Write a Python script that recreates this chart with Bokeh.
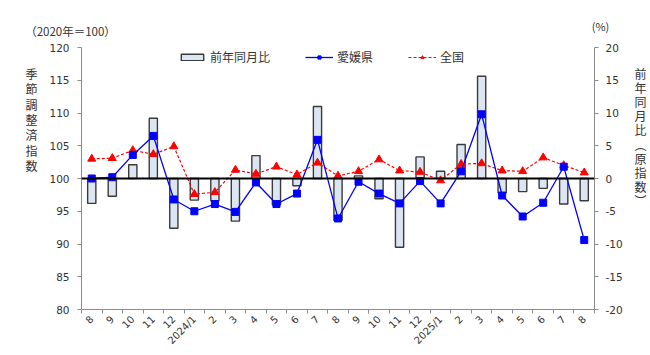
import math
from bokeh.plotting import figure
from bokeh.layouts import column, row
from bokeh.models import (Range1d, LinearAxis, FixedTicker, Span, Label,
                          Legend, LegendItem, ColumnDataSource)
from bokeh.embed import file_html
from bokeh.resources import INLINE

# ---- data ----
months = ["8", "9", "10", "11", "12", "2024/1", "2", "3", "4", "5", "6", "7",
          "8", "9", "10", "11", "12", "2025/1", "2", "3", "4", "5", "6", "7", "8"]
yoy = [-3.8, -2.7, 2.1, 9.2, -7.6, -3.3, -3.4, -6.5, 3.5, -4.0, -1.1, 11.0,
       -6.4, 0.4, -3.1, -10.5, 3.3, 1.1, 5.2, 15.6, -2.2, -2.0, -1.5, -3.9, -3.4]
ehime = [100.0, 100.2, 103.6, 106.5, 96.8, 95.0, 96.1, 94.9, 99.4, 96.1, 97.7, 105.9,
         93.9, 99.5, 97.7, 96.2, 99.6, 96.2, 101.1, 109.8, 97.4, 94.2, 96.3, 101.8, 90.6]
national = [103.0, 103.1, 104.3, 103.7, 104.9, 97.6, 97.9, 101.3, 100.7, 101.8, 100.6, 102.4,
            100.4, 101.1, 102.9, 101.2, 101.0, 99.7, 102.2, 102.3, 101.2, 101.1, 103.2, 102.0, 100.9]
left_ticks = [80, 85, 90, 95, 100, 105, 110, 115, 120]
right_ticks = [-20, -15, -10, -5, 0, 5, 10, 15, 20]
left_title = "季節調整済指数"
right_title = "前年同月比︵原指数︶"

xs = list(range(len(months)))
src = ColumnDataSource(dict(x=xs, yoy=yoy, ehime=ehime, national=national))

JP = "Noto Sans CJK JP"
NUM = "DejaVu Sans"
TXT = "#333333"
AX = "#8c8c8c"

# ---------------- main chart ----------------
fig = figure(width=584, height=316, x_range=Range1d(-0.5, len(months) - 0.5),
             y_range=Range1d(80, 120), output_backend="svg", toolbar_location=None,
             min_border_left=34, min_border_right=36, min_border_top=8, min_border_bottom=46)
fig.extra_y_ranges = {"pct": Range1d(-20, 20)}
fig.xgrid.visible = False
fig.ygrid.visible = False
fig.outline_line_color = None

ya = fig.yaxis[0]
ya.ticker = FixedTicker(ticks=left_ticks)
ya.minor_tick_line_color = None
ya.major_tick_out = 4
ya.major_tick_in = 0
ya.axis_line_color = AX
ya.major_tick_line_color = AX
ya.major_label_text_font = NUM
ya.major_label_text_font_size = "10.5px"
ya.major_label_text_color = TXT
ya.major_label_standoff = 8

ra = LinearAxis(y_range_name="pct", ticker=FixedTicker(ticks=right_ticks))
ra.major_label_overrides = {t: str(t) for t in right_ticks}
ra.minor_tick_line_color = None
ra.major_tick_out = 4
ra.major_tick_in = 0
ra.axis_line_color = AX
ra.major_tick_line_color = AX
ra.major_label_text_font = NUM
ra.major_label_text_font_size = "10.5px"
ra.major_label_text_color = TXT
ra.major_label_standoff = 7
fig.add_layout(ra, "right")

xa = fig.xaxis[0]
xa.ticker = FixedTicker(ticks=xs, minor_ticks=[x - 0.5 for x in xs] + [xs[-1] + 0.5])
xa.major_label_overrides = {x: m for x, m in zip(xs, months)}
xa.major_tick_out = 0
xa.major_tick_in = 0
xa.minor_tick_out = 4
xa.minor_tick_in = 0
xa.minor_tick_line_color = AX
xa.axis_line_color = AX
xa.major_label_orientation = math.pi / 4
xa.major_label_text_font = NUM
xa.major_label_text_font_size = "10px"
xa.major_label_text_color = TXT
xa.major_label_standoff = 4

bars = fig.vbar(x="x", top="yoy", bottom=0, width=0.4, source=src, y_range_name="pct",
                fill_color="#DCE6F2", line_color="#3a3a3a", line_width=1.4)

fig.add_layout(Span(location=100, dimension="width", line_color="black", line_width=2))

nl = fig.line(x="x", y="national", source=src, line_color="#FF0000", line_width=1.2,
              line_dash="3 2")
ns = fig.scatter(x="x", y="national", source=src, marker="triangle", size=8,
                 fill_color="#FF0000", line_color="#FF0000")

el = fig.line(x="x", y="ehime", source=src, line_color="#0000FF", line_width=1.3)
es = fig.scatter(x="x", y="ehime", source=src, marker="square", size=7,
                 fill_color="#0000FF", line_color="#0000FF")

legend = Legend(items=[LegendItem(label="前年同月比", renderers=[bars]),
                       LegendItem(label="愛媛県", renderers=[el, es]),
                       LegendItem(label="全国", renderers=[nl, ns])],
                orientation="horizontal", location=(97, 244),
                border_line_color=None, background_fill_alpha=0,
                padding=0, margin=0, spacing=35, glyph_width=28, glyph_height=8,
                label_standoff=4, label_text_font=JP, label_text_font_size="12px",
                label_text_color=TXT)
fig.add_layout(legend)


# ---------------- text panels ----------------
def text_panel(w, h):
    f = figure(width=w, height=h, x_range=Range1d(0, w), y_range=Range1d(0, h),
               output_backend="svg", toolbar_location=None,
               x_axis_type=None, y_axis_type=None, min_border=0)
    f.outline_line_color = None
    f.xgrid.visible = False
    f.ygrid.visible = False
    return f


def add_text(f, x, y, text, size):
    f.add_layout(Label(x=x, y=y, x_units="screen", y_units="screen", text=text,
                       text_font=JP, text_font_size=size, text_color=TXT,
                       text_align="center", text_baseline="middle"))


top = text_panel(650, 39)
add_text(top, 70, 9, "（2020年＝100）", "11.5px")
add_text(top, 600, 14, "(%)", "11px")

# vertical titles, one character per line; the side panels' frames are aligned
# with the chart frame (canvas y 47..309), so y is measured up from canvas y 309
left = text_panel(46, 316)
for i, ch in enumerate(left_title):
    add_text(left, 31, 236 - 15.3 * i, ch, "12px")

right = text_panel(20, 316)
for i, ch in enumerate(right_title):
    add_text(right, 10, 236 - 14.1 * i, ch, "12px")

p = column(top, row(left, fig, right, spacing=0), spacing=0)

open("out.html", "w").write(file_html(p, INLINE))
